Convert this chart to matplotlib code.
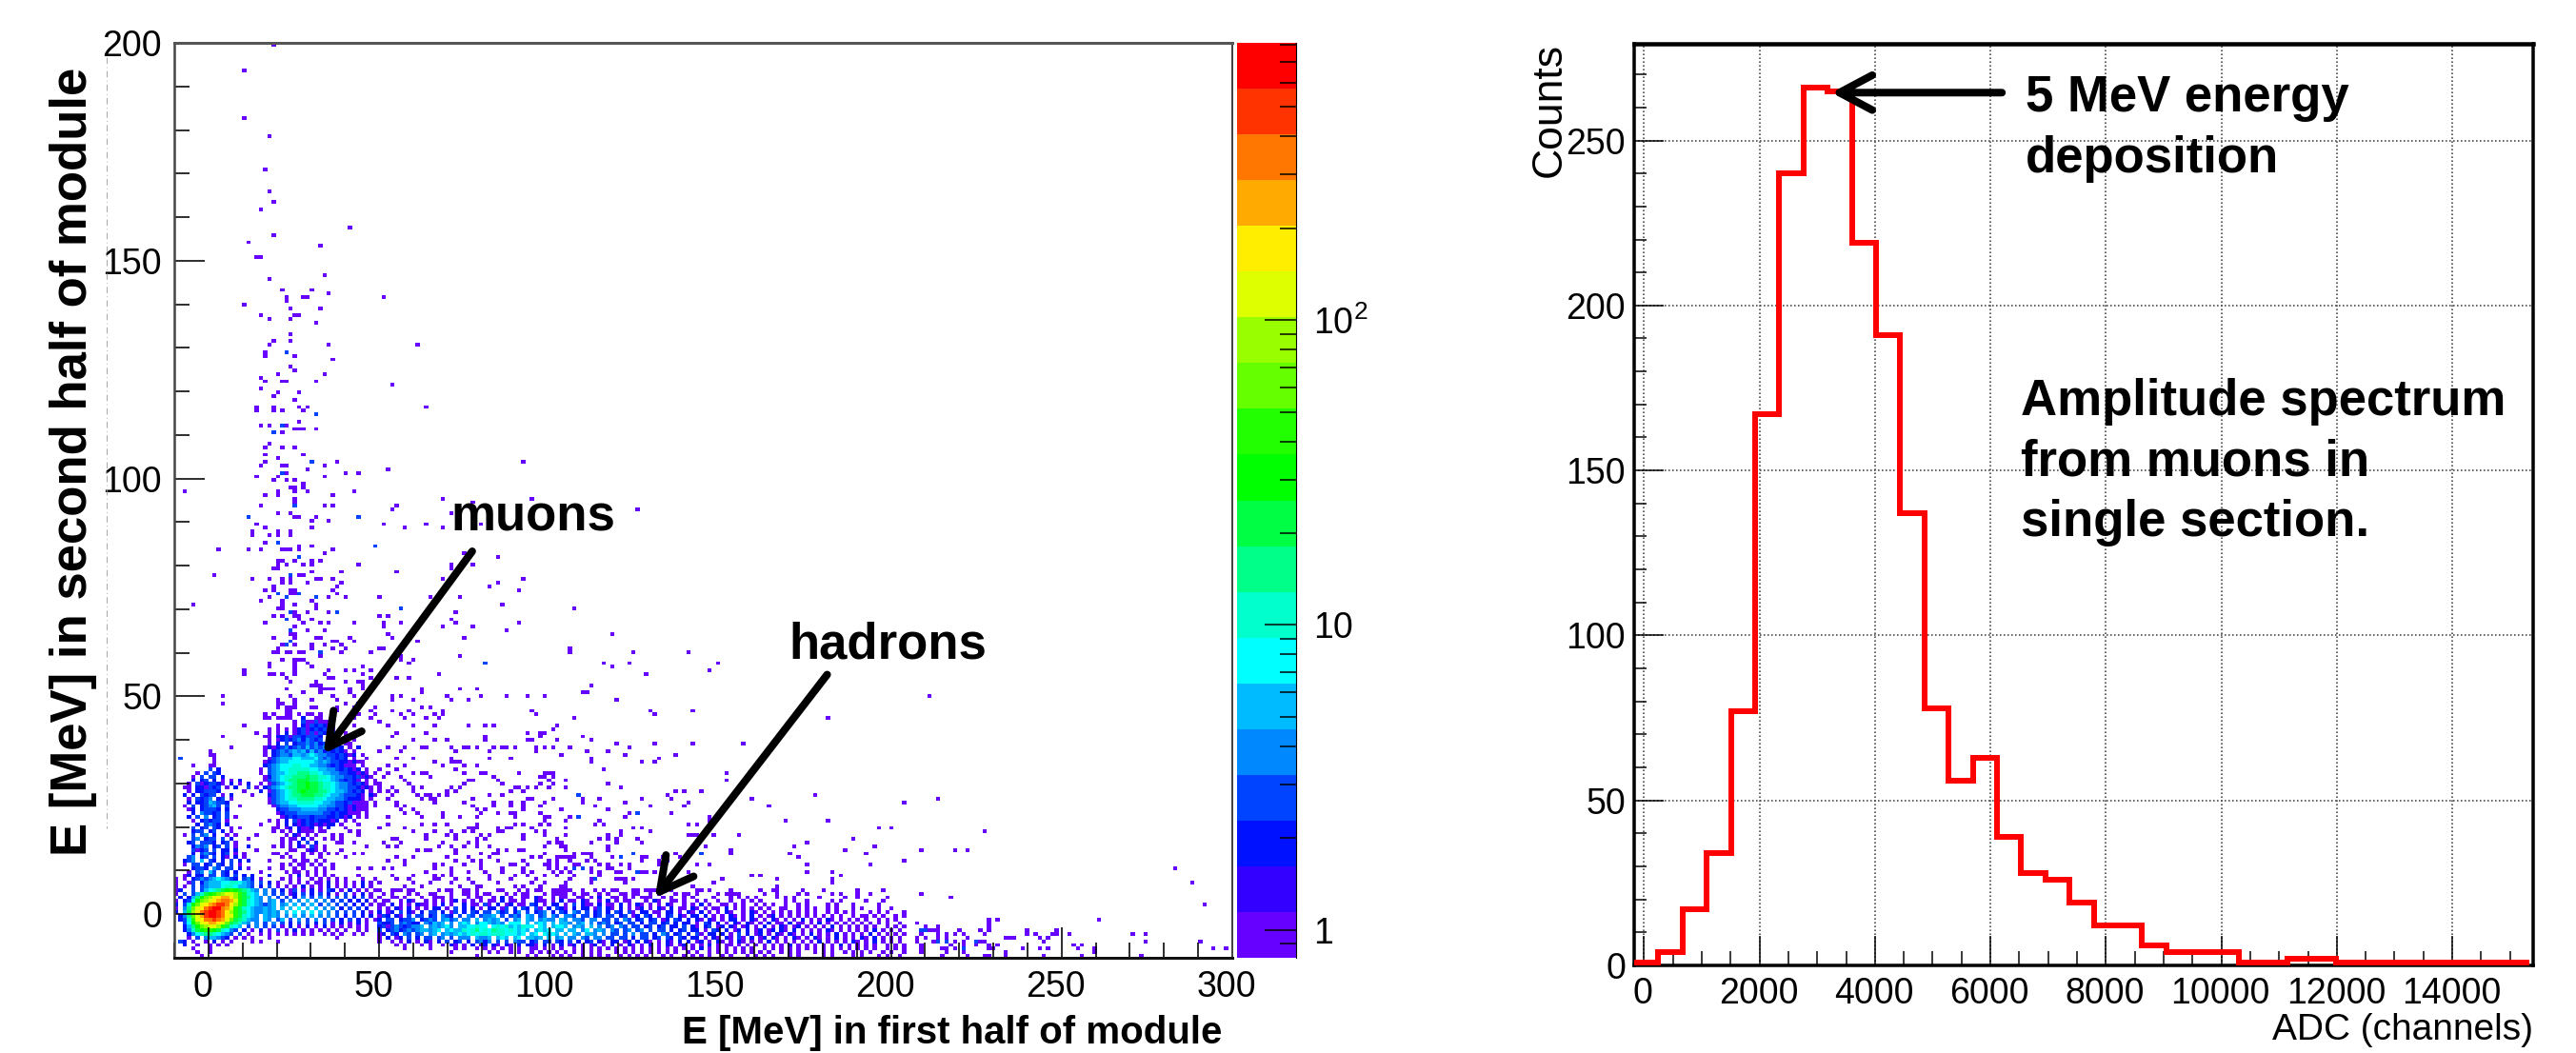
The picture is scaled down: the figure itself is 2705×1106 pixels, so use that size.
import numpy as np
import matplotlib
matplotlib.use("Agg")
import matplotlib.pyplot as plt
from matplotlib.colors import ListedColormap, LogNorm
from matplotlib.ticker import FixedLocator, MultipleLocator, NullFormatter
from matplotlib.transforms import ScaledTranslation

plt.rcParams['font.family'] = ['Liberation Sans', 'DejaVu Sans']
plt.rcParams['mathtext.default'] = 'regular'

W, H = 2705, 1106

# ---- right panel: amplitude spectrum
bin_start = -170
bin_width = 419
counts = [1, 4, 17, 34, 77, 167, 240, 266, 265, 219, 191, 137, 78, 56, 63, 39, 28, 26, 19, 12, 12, 6, 4, 4, 4,
          1, 1, 2, 2, 1, 1, 1, 1, 1, 1, 1, 1]

# ---- left panel: 2D histogram, bins of 1.24 x 0.84 MeV
nbins = 250
e1_lo, e1_hi = -10, 300
e2_lo, e2_hi = -10, 200
palette = ['#6600ff', '#3300ff', '#0011ff', '#0044ff', '#0088ff', '#00bbff', '#00ffff', '#00ffcc', '#00ff88',
           '#00ff44', '#00ff00', '#22ff00', '#66ff00', '#99ff00', '#ddff00', '#ffee00', '#ffaa00', '#ff7700',
           '#ff3300', '#ff0000']
level_chars = '.123456789abcdefghij'
level_counts = [0, 1, 2, 3, 4, 6, 8, 11, 16, 22, 32, 45, 63, 89, 126, 178, 251, 354, 500, 700]

# cells read row by row, top row is bin 79, first column is bin 0
core_rows = [
    "......................1.....1...1...........1...",
    "................1...........1.......1...1.1...1.",
    "......................11.1..1......1........1...",
    "..........................1.........11........1.",
    "...........................1.....1......1..11...",
    "................................111.........1...",
    "..........................1.......1111...1..1...",
    "..............................1...1......1......",
    "...........................1.........1....1..1..",
    "........................1...1...1.....1.........",
    "...........1............11..1...........1..1....",
    "........................1.111...11....1...1....1",
    "..........................11..........1...1...1.",
    ".....................1.1..11.1.11.1........1...1",
    ".....................11.1111..2..11..1....1...1.",
    "............................1.3113111...........1",
    "................1.......1...1.21323211....1......",
    "......................1.1.1.1231232311.1........",
    "...................1..1.1.2.12313132132.1.......",
    "...........1.........11.22313323332.1.1.1.......",
    "......................1.12323424323.12..1.1.....",
    "......................1.2.3.23343423232.11......",
    ".....................1212342343534343232.1.2....",
    "........1............1.234345453534232321.1......",
    "........11...........1.23443554565443323212.1....",
    ".........1............1345556655564343232.1..1...",
    ".........1...........123455666666545433221211....",
    "....1...11...........2345666776655443232111.1....",
    "........3.2.........1.3456677777665544323212.1...",
    ".....1.3.32.........1.345567788877655443322121.1.",
    "....1.3.33.2.........12456778889887765443323121..",
    "....2.23.2.1.1.2.....13456788999887665432321.1.1.",
    "...1.3123321.2.1.2..1.134567899a99877654432321.11",
    "..11.221323.1.2..3.1.2345678899a998776544332121..",
    "...1.223332.....1...2.13456789a99988765543232.1.1",
    "..2.2.3233.1.2....1...23456788999887655433321.21.",
    "...1.3234.23.1........13456778888776554432221.1..",
    "...2.22354332.........134556677776655433231111.1.",
    "..1.3.23453.3..1.......13445566666554433212111.1.",
    "...12.23332.2...........2334445555443323212111...",
    "....2.43323.3...........12333444444332322111.1...",
    "...2.3.4.23.3.1..........12323332333223212.1.1...",
    "....1.23233.1.........1.1.2.31232322212.1.1......",
    ".....2.3432.2.......1...1.2.2123212122.1...1.....",
    "....3.23.32..1.1.......11.12.2112.1.2...1........",
    "....233.23.2.1.........1.1.1.2111.11.....1.1.....",
    "..1.3.34.2..1.1....1......1.21.1.1...1.1...1.....",
    "....34.233.3.2...1.......1.11.2.1..1.1.1.........",
    "...23.3332.23.1..........1.1.2.3.2....11..1......",
    "....2434.23.3.1..2.....1.1.1.21.31.1.........1...",
    "....3123.3.22.2....1.......11..121.1...1.........",
    "....2.3432.23.1.1......11.1...1.1.1.1.1...1.1....",
    "...34.23.3.21.2.1........1.1..1...1.....1........",
    "..234.5.32.2.3.2.2....1.....1.11.1.1.............",
    "..1.33.23.32.3.1.........1.1.11.1.1..1...........",
    "....2332.43.33.2.1....1..1..1.1..1.1.1.....1..1..",
    "...1.34.53.32.2.....1.....1.11.1.1.1.............",
    "..12.22.33.32.3.2.2...2....1.2.1.1.1.1.....1.....",
    "1.1.23434565432.342.1....1.1.1..1.1.1.1.1...1..1.",
    "1..13.2455566776543.3.2.1..1.1.1.11.2.1.1.1.2.1..",
    "1.1.3.3455567765543.2.3.1.1.1.2.1.1.2.1.1.1.2.1.",
    "12..3.356789aba98754.4.3.2.13.1.2.1.32.1.2.1.1.1",
    "1.3.3579abcdeedb9765.4.3.3.12.3.2.3.2.1.3.1.2.1.",
    ".2.258acdefggfdb98654.4.3.3.2.4.3.4.3.3.3.2.3.1.",
    "1.236acdefghhgeb97654.45.3.4.4.5.4.4.3.3.2.2.2.1",
    "2.37acefghiihfdb97654345.45.5.4.5.3.4.3.3.2.2.1.",
    "1.48cefhijjhgeb976544545.5.5.6.5.5.4.4.2.3.3.2.",
    "2.59dfhijjihfdb9865445454.5.6.5.6.5.4.3.3.3.2.1",
    ".248cegijjihfeb97654.5454.4.5.4.5.4.4.3.2.3.2.2.",
    ".237befhhihgec987544.54.35.3.4.3.4.3.3.2.3.2.1.1",
    "..36acefggfec98754.4.3.4.3.2.3.3.2.3.1.2.1.2.1..",
    "..258acdeedb9765.3.4.3.3.1.2.1.2.1.2.1.1.1.1.1..",
    "..2479abba97643.2.1.2.1.3.1.2.1.1.1.1.1.1..1.1..",
    "...24678876543.3.1..1.1.1.1.1.1.1..1.1.1..1.1...",
    "...1.3.455432.1.1.1...1...............1..........",
    ".32.1..1.2.1.1....1.1...1........................",
    "..2..1..1.1.1...................................",
    "....1...1.......................................",
    ".....1..1.......................................",
    "......1.........................................",
]

# same idea for the hadron band, top row is bin 18, first column is bin 48
band_rows = [
    "1...11..1.....1.11...1.1....11...1.1..1..1.111..1....1.11...1..1.1...1.....11.1....1......1...1.....1....1.......1.....1....",
    ".1.1...1.1..11...1..11.1.11...1.1.11...1..1.1.1.11..1.1..11.11..1.1...1.1..1....1.1..1.....1..1......1.....1.1......1......",
    "1..11.1...1..111.1...1.11..1.2.1..11.21..1.11..11.1.2..11.1.1.111..1.1..1.1....1...1.1.1.1....1.1.1.....1.....1..1......1...",
    ".11..1.21..1.1.1.12.1.1.1.11.2.11.1..211.1.2.11.21..1.2.1.11...1.21..11.1..1.1..1..1..1.1.1.....1.1..1.....1.1.....1...1....",
    "11.2.1.1.211.1.2.1..2.11.31.2.12.11.32.1.22.1.3.211.2.11.2.1.21.1.1.21..1.1.2.1..11.1.1..1.1.1..1..1.1....1.1...1.....1.....",
    "1.1.21.2.1.1.22.1.3.2.2.1.22.13.2.32.31.2.321.2.22.13.21.2.1.12.1.21.2.11.21.1.11.2.1.1.1.1.1..11..1.1.1..1.1...1.1...1..1..",
    "2.12.3.21.2.33.2.13.2.32.33.423.24.3.234.2.32.43.3.23.2.32.31.22.11.22.1.21.2.1.1.21..1.21.1.1.1.1.1.1.1..1.1.1.1...1.1.1...1",
    "132.21.3.33.23.432.3.43.3445.3.343.54.34.43.443.33.23.33.23.12.32.1.23.21.22.2.1.1.21.1.2.1.12.1.1.1.1.1.1.1.1..1.11.1.1..1.1",
    "2.33.2334.2343.4534.44.5.4545.3.45.54.4544.54.443.44.33.3.43.23.23.12.32.2.21.21.1.22.1.21.1.21.1.1.2.1.1.21.1.1.1.1..1.1.1..",
    "3223.34322.43545.4.565.4665454.666.5.565.5.554.45.4.343.23.33.2.33.23.2.22.1.32.2.1.21.21.1.2.11.2.11.1.2.1.1.1.1.1.1.1.1..1",
    "23134323445.454564.5566766.6767565766.65.5665.454.5.4.34.43.33.23.23.22.3.21.23.12.21.12.1.2.1.21.12.1.1.1.2.1.1.1.1.1..1.1.1",
    "3.2342343455456.56557678676877676565.5656.55.55.46.454.43.34.34.3.33.2.23.22.1.32.2.12.2.12.12.21.2.1.1.1.21.1.1.1.1.2.1.1.1.",
    "12.32.43.34.45.45456567677677766656.56.6565.5.54.554.4.33.3.4.33.2.43.23.2.31.22.2.1.3.2.12.1.21.21.1.2.1.1.2.1.1.1.2.1.1.1.1",
    "1.2.12.3.2.33.34.3.444.5445.565.56.5545.5.45.44.43.44.33.33.2.33.23.32.32.22.1.21.21.31.2.12.21.1.21.1.21.1.2.1.1.21.2.1.1.1.",
    "1..1.1.2.1.21.2.3.23.2.3424.3.3.433.23.33.32.3.2.23.21.22.12.2.21.1.21.2.2.12.1.21.1.21.1.1.2.1.1.1.1.1.2.1.1.1.21.1.2.1.1.1.",
    "....1.1...1.1..1.21.1.2.12.21.21.2.221.2.1.2.12.1.12.1.2.1.21.1.2.1.21.12.1.1.2.1.11.1.1.1.1.1.1.2.1.1.1.1.1.2.1.1.1.1..1.1.1",
    "......1.....1.....1.1..1.1.1.1.1.1..11.1.1.1..1.1.1.1.1.1.1.1.1.1.1.1.1.1.1.2.1.1.1.1.1.1..1.1.1.1.1.1.1.1.1.1.1.1.1.1..1.1.1.",
    ".................1........1.1..1.1..1.1.1.1.1.1.1.1.1...1.1.1.1.1.1.1.1..1.1..1.1.1.1.1.1.1.1..1.1.1...1.1.1..1.1.1.1..1.1..1.",
    ".......................1...........1.1...1.1.1..1.1.1.1..1.1.1.1...1.1..1.1.1.1..1.1...1.1.1.1...1.1.....1.1....1.1...1.1..1.",
]

# single hits above the band, (E2, [E1, ...])
sparse_rows = [
    (199.6, [19.3]), (193.7, [10.5]), (182.7, [10.5]), (178.5, [17.9]), (171, [16.6]), (166, [17.9]),
    (163.4, [19.3]), (161.8, [15.5]), (157.5, [41.6]), (155.9, [19.3]), (154.2, [11.8]), (153.4, [32.7]),
    (150.9, [14.3, 15.5]), (146.6, [34.1]), (145.8, [17.9]), (143.3, [21.6, 30.4]), (142.4, [35.3]),
    (141.6, [51.3, 22.9, 27.9, 29.1]), (140.8, [22.9]), (139.9, [10.5]), (139, [24.1, 32.7]),
    (137.4, [15.5, 25.4, 26.6]), (136.6, [17.9, 24.1]), (135.7, [31.6]), (133.2, [24.1]), (131.5, [19.3, 24.1]),
    (130.6, [17.9, 35.3, 61.4]), (129, [16.6]), (128.2, [16.6, 25.4]), (127.3, [36.5]), (125.6, [24.1]),
    (124.8, [25.4]), (123.9, [20.4, 34.1]), (123.1, [15.5]), (122.3, [16.6, 21.6, 22.9, 31.6]), (121.4, [53.9]),
    (120.6, [15.5]), (119.8, [20.4, 26.6]), (118.9, [19.3]), (118, [25.4]), (116.4, [14.3, 19.3, 26.6, 29.1, 63.7]),
    (115.6, [14.3, 19.3, 27.9, 21.6]), (113, [26.6]), (112.2, [15.5, 17.9, 22.9]), (111.4, [25.4, 26.6, 27.9, 31.6]),
    (110.5, [21.6]), (108, [17.9]), (107.2, [16.6, 21.6, 25.4]), (105.5, [16.6, 27.9]), (104.7, [20.4]),
    (103.8, [16.6, 37.8, 92.1]), (103, [15.5, 34.1, 21.6, 22.9]), (102.1, [29.1, 52.6]), (101.3, [22.9, 40.3, 44.1]),
    (100.4, [14.3, 20.4, 34.1]), (99.5, [19.3, 22.9, 25.4]), (98.8, [27.9]), (97.9, [24.1, 25.4, 27.9]),
    (97.1, [29.1, 25.4, -6.9, 42.8, 20.4]), (96.3, [20.4, 16.6, 36.5]), (95.5, [25.4, 68.7, 94.7]),
    (94.6, [25.4, 77.4]), (93.7, [15.5, 34.1, 36.5, 55]), (92.9, [53.9, 125.6]), (92, [20.4, 24.1, 71.2]),
    (91.2, [25.4, 26.6, 31.6]), (90.4, [30.4, 35.3]), (89.5, [14.3, 51.3, 63.7, 79.9]), (88.7, [16.6, 30.4, 57.6, 68.7]),
    (87.8, [13, 20.4, 24.1]), (87, [18, 20.4, 24.2, 13]), (85.3, [16.6]), (84.4, [26.6, 30.3]),
    (83.5, [3.2, 11.7, 15.4, 21.6, 22.9, 24.2, 26.6, 36.5]), (83, [34, 74.9]), (81.8, [84.8]),
    (81, [20.4, 21.6, 25.4, 30.3, 32.8]), (80, [20.4, 22.9, 27.9, 30.3, 44, 71.2, 77.4]), (79.3, [19.1, 20.4, 71.2]),
    (78.5, [30.3, 39, 55.1]), (77.6, [1.9, 26.6, 27.9]), (76.7, [13, 18, 21.6, 24.2, 31.6, 32.8, 36.5, 68.7, 92.2]),
    (76, [21.6, 24.2, 29.1, 39, 84.8]), (75, [19.1, 37.7, 82.3]), (74.2, [16.6, 19.1, 24.2, 25.4, 36.5, 91.1]),
    (73.3, [24.2, 25.4, 37.7]), (72.5, [18, 35.3, 40.2, 50.1, 65, 73.7]), (71.7, [15.4, 21.6, 30.3]),
    (71, [-4.3, 21.6, 25.4, 31.6, 86]), (70, [20.4, 21.6, 31.6]), (69, [25.4, 29.1, 35.3, 72.4]),
    (68.3, [19.1, 21.6, 25.4, 26.6, 50.1, 52.6]), (67.5, [26.6, 30.3, 71.2]),
    (66.6, [16.6, 27.9, 32.8, 35.3, 42.7, 51.4, 56.3, 72.4, 91.1]), (65.8, [25.4, 51.4, 68.7, 77.4]),
    (65, [29.1, 34, 87.3]), (64, [24.2, 25.4, 52.6]), (63.3, [19.1, 25.4, 31.6, 32.8, 41.4, 53.9, 74.9]),
    (62.4, [36.5, 37.7, 42.7, 61.2]), (61.5, [21.6, 25.4, 30.3, 34, 39]), (60.6, [20.4, 30.3, 36.5, 40.2, 50.1, 51.4]),
    (60, [19.1, 20.4, 22.9, 24.2, 26.6, 27.9, 39, 47.7]), (59, [32.8, 73.7, 56.3]),
    (58.2, [21.6, 25.4, 26.6, 27.9, 56.3, 60]), (57.3, [29.1, 58.8, 18, 25.4]),
    (55.4, [67.5, 10.6]), (54.4, [55.1, 58.6]), (51.9, [62.5, 73.7, 78.6]), (51, [62.5]),
    (50.3, [4.3, 53.9, 56.3, 70, 79.8, 87.3, 93.5, 98.4, 98.4]), (49.3, [53.9, 60, 71.2, 76.1]), (47.6, [62.5, 65]),
    (46.8, [53.9, 58.8, 68.7, 95]), (45.9, [56.3, 60, 66.3, 68.7, 96]), (44.8, [57.5, 64, 67.5]),
    (43.4, [52.6, 60, 66.3, 76.1, 81.1, 83.5]), (41.6, [55.1, 63.7, 93.5, 97]), (40.8, [54, 81.1, 97.2]),
    (40, [60, 66.3, 70, 81.1, 93.5, 95]), (38.4, [6.8, 52.6, 57.5, 62.5, 63.7, 71.2, 74.9, 76.1, 78.6, 83.5, 86, 87.3, 89.8, 96]),
    (37.6, [50, 56.3, 72, 82, 95.5]), (35.8, [55.1, 60, 71.2, 82.3, 88.6]), (35, [66.3, 71.2, 72.4, 73.7]),
    (34.2, [52.6, 57.5, 68.7, 78.6, 74.9]), (33.4, [50, 55.1, 72.4]), (32.5, [52.6, 60, 62.5, 63.7, 74.9, 80, 81.1, 91, 99.7]),
    (31.6, [51.4, 56.3, 65, 84, 97, 98.4]), (30.8, [57.5, 76, 77.4, 84.8, 99.7]), (30, [58.8, 75, 86, 97.2]),
    (29, [50, 54, 60, 62, 71.2, 73.7, 90, 91, 93.5, 96]), (28.3, [52.6, 55, 60, 70, 72.4, 88.6, 92]),
    (27.4, [54, 61.2, 63.7, 65, 67.5, 70, 82.3, 86]), (26.5, [52.6, 62.5, 65, 66.3, 77.4, 93, 94.7]),
    (25.7, [55.1, 66, 75, 84, 88, 92.3]), (24.8, [55, 57.5, 78, 83.5, 88.6, 92.3, 97.2]), (24, [56.3, 60, 78.6, 81.1, 92.3]),
    (23.2, [57.5, 61, 68.7, 79.8, 84.8, 88.6, 90, 97]), (22, [52.6, 62.5, 69, 73.7, 78.6, 90, 98.4, 99.7]),
    (20.7, [53, 62.5, 66, 70, 78.6, 90, 92.3, 97]), (20, [50, 58, 76, 77.4, 78.6, 84.8, 87.3, 89, 94.7]),
    (19, [60, 66.3, 71.2, 74.9, 77.4, 84.8, 86, 96, 98.4]), (18.2, [63.7, 70, 72.4, 80, 82.3, 92]),
    (17.3, [53.9, 55.1, 63.7, 72.4, 78.6, 81.1, 92.3]), (16.4, [51.4, 56.3, 68.7, 76.1, 78.6]),
    (15.6, [52.6, 55, 67, 71.2, 74.9, 78.6, 82]), (14.7, [61.2, 63.7, 65, 72.4, 85, 87, 91, 92.3]),
    (13.9, [72.4, 80, 83, 85, 98.4]), (13, [55, 60, 70, 76, 82.3, 95, 97]), (12.3, [52, 57, 72.4, 77.4, 80, 84.8, 92.3, 99.7]),
    (11.4, [58, 66.3, 68.7, 74.9, 80, 88, 90, 93.5, 98]), (10.5, [51.4, 54, 66.3, 71.2, 80, 86, 92.3, 99.6]),
    (9.6, [63.7, 71, 76, 81.1, 86, 92, 95]), (8.8, [54, 60, 66, 68.7, 71.2, 82.3, 90, 93.5]),
    (8, [55.1, 58.8, 66, 67.5, 72.4, 76.1, 82, 88.6, 96]), (7, [50, 60, 65, 71.2, 77.4, 85, 94.7]),
    (6.3, [57.5, 62.5, 73.7, 78.6, 80, 90, 92, 97.2]), (5.4, [54, 59, 70, 75, 78.6, 91, 96]),
    # right of x = 98
    (70.5, [107.1]), (64.6, [118.2]), (61.2, [105.9]), (60.3, [105.9, 124.4, 140.6]), (57.9, [115.8, 123.1, 149.1]),
    (57, [118.2]), (56.2, [146.7]), (55.4, [128.1]), (52.9, [112]), (51.1, [109.5, 110.7]), (50.3, [210.9]),
    (49.4, [119.4]), (46.9, [129.3, 141.6]), (46.1, [130.5]), (45.2, [107.1, 181.4]), (43.5, [102.2]), (42.7, [101]),
    (41.9, [98.4]), (41, [109.5]), (40.2, [102.1, 112]), (39.3, [119.4, 130.5, 141.6, 156.6]),
    (38.5, [98.4, 101, 105.9, 123.1]), (37.7, [110.7, 117.1]), (36.8, [103.4, 121.9, 136.8]), (35.9, [112, 131.7]),
    (35.1, [112, 130.5, 126.8]), (33.4, [115.8]), (32.6, [98.4, 99.6, 100.8, 151.6]), (31.8, [101]), (31, [104.7, 151.6]),
    (30.1, [117.1, 101]), (29.3, [99.6, 104.7, 120.8]), (28.4, [136.8, 139.3, 144.2]), (27.6, [134.4, 177.7]),
    (26.7, [109.5, 101, 114.5, 126.8, 135.6, 159.1, 213.4]), (25.8, [98.4, 109.5, 121.9, 140.6, 203.6]),
    (25, [113.3, 129.3, 139.3, 164]), (24.2, [103.4, 117.1]), (23.3, [135.6, 123.1]), (22.5, [105.8, 121.9, 146.7]),
    (21.6, [98.4, 104.5, 114.5, 146.7, 169, 181.4]), (20.8, [99.6, 113.3, 115.8, 140.6, 143]),
    (19.9, [104.5, 124.4, 126.8, 196.2, 199.9]), (19, [120.8, 129.3, 227.2]),
    (18.2, [98.4, 104.5, 117.1, 120.8, 140.6, 141.8, 143, 147.9, 155.4]), (17.3, [102.1, 114.5, 117.1, 119.5, 125.6, 188.8]),
    (16.4, [99.6, 102.1, 103.3, 112, 119.5, 126.8, 175.2]), (15.5, [98.4, 103.3, 104.6, 117.1, 145.4, 171.4, 194.9]),
    (14.6, [104.6, 117.1, 152.8, 186.3, 208.5, 218.3, 222.1]),
    (13.9, [98.4, 107.1, 109.5, 110.7, 112, 136.8, 152.8, 170.2, 192.4]),
    (13, [102.1, 103.4, 104.6, 105.9, 107.1, 112, 118.2, 126.8, 128.1, 133, 138.1, 172.7]),
    (12.1, [102.1, 105.8, 110.7, 113.3, 126.8, 131.8, 134.3, 203.6]),
    (11.4, [99.6, 102.1, 107.1, 108.2, 114.5, 117.1, 120.8, 123.1, 131.8, 143, 146.7, 175.2, 193.7]),
    (10.6, [99.6, 102.1, 104.6, 112, 117.1, 118.2, 123.1, 282.8]),
    (9.8, [101, 103.4, 105.8, 112, 114.5, 119.5, 120.8, 126.8, 128.1, 130.5, 140.6, 175.2, 182.6]),
    (9, [98.4, 102.1, 107.1, 114.5, 159.1, 161.5, 185.1]), (8.1, [105.8, 112, 119.5, 120.8, 121.9, 124.4, 150.5, 166.5, 182.6]),
    (7.3, [98.4, 104.6, 121.9, 112, 147.9, 182.6, 287.8]), (6.4, [104.6, 103.4, 141.6, 166.5]),
    (5.6, [102.1, 105.8, 113.3, 115.8, 124.4, 125.6, 128.1, 129.3, 165.3]),
    (4.8, [101, 103.4, 109.5, 136.8, 140.6, 152.8, 154.1, 172.7, 175.2, 190, 208.5]), (4, [217.1]), (2.2, [291.5]),
    (-1.2, [228.3, 230.9, 260.5]), (-2, [207.4, 228.3]), (-2.9, [209.7, 213.4, 228.3]),
    (-3.8, [210.9, 212.1, 213.4, 219.7, 226, 228.3, 239.4, 248.1]),
    (-4.5, [208.5, 213.4, 215.8, 218.2, 220.8, 227.2, 239.4, 242, 246.9, 248.1, 251.8, 270.4, 274.1]),
    (-5.4, [207.4, 209.7, 213.4, 215.8, 222.2, 233.2, 234.4, 235.7, 243.1, 245.5]),
    (-6.2, [207.4, 212.1, 218.2, 220.8, 224.6, 226, 227.2, 244.4, 274.1, 290.2]),
    (-7, [208.5, 217.1, 220.8, 224.6, 228.3, 230.9, 253.1, 255.5]),
    (-7.9, [208.5, 214.6, 215.8, 218.2, 228.3, 229.5, 238.2, 243.1, 245.7, 254.3, 259.2, 293.9, 297.6]),
    (-8.7, [208.5, 215.8, 220.8, 233.2, 259.2]), (-9.6, [214.6, 222.2, 227.2, 228.3, 233.2, 244.4, 255.5, 272.9]),
]

# cells with a few hits (blue ones), E1 and E2
blue_e1 = [22.9, 31.6, 21.6, 19.3, 30.4, 21.6, 25.4, 11.8, 44.1, 48.9, 26.6, 20.4, 24.2, 20.4, 26.6, 22.9, 31.6, 24.2,
           37.7, 56.3, 22.9, 24.2, 24.2, 22.9, 32.8, 81.1, 108.2, 125.6, 108.2, 124.4, 144.2, 120.8, 113.3, 125.6,
           107.1, 109.5, -8, 208.5, 209.7, 213.4, 215.8, 220.8, 224.6]
blue_e2 = [129, 114.7, 112.2, 110.5, 103.8, 101.3, 93.8, 91.2, 91.2, 84.4, 81.8, 85.3, 77.6, 73.3, 73.3, 72.5, 72.5, 69,
           69, 70, 67.5, 65, 62.4, 61.5, 60, 57.3, 27.6, 23.3, 22.5, 13.9, 13.9, 13, 8.1, 9.8, 10.6, 10.6, 35.8, -3.8,
           -3.8, -6.2, -6.2, -7.9, -6.2]

x_major = [0, 50, 100, 150, 200, 250, 300]
y_major = [0, 50, 100, 150, 200]
cbar_ticks = [1, 10, 100]
cbar_labels = ['1', '10', '$10^{2}$']
adc_major = [0, 2000, 4000, 6000, 8000, 10000, 12000, 14000]
cnt_major = [0, 50, 100, 150, 200, 250]


def px_axes(l, t, r, b):
    return fig.add_axes([l / W, 1 - b / H, (r - l) / W, (b - t) / H])


def label(x, y, s, **kw):
    fig.text(x / W, 1 - y / H, s, **kw)


def px(p):
    return p * 72 / 100


grid = np.zeros((nbins, nbins))
for k, row in enumerate(core_rows):
    for i, ch in enumerate(row):
        grid[79 - k, i] = level_counts[level_chars.index(ch)]
for k, row in enumerate(band_rows):
    for i, ch in enumerate(row):
        grid[18 - k, 48 + i] = level_counts[level_chars.index(ch)]

dx = (e1_hi - e1_lo) / nbins
dy = (e2_hi - e2_lo) / nbins
for e2, e1s in sparse_rows:
    for e1 in e1s:
        i, j = int((e1 - e1_lo) / dx), int((e2 - e2_lo) / dy)
        grid[j, i] = max(grid[j, i], 1)
for e1, e2 in zip(blue_e1, blue_e2):
    grid[int((e2 - e2_lo) / dy), int((e1 - e1_lo) / dx)] = 3

fig = plt.figure(figsize=(W / 100, H / 100), dpi=100)

# left panel
ax = px_axes(183, 45, 1294, 1006)
xe = np.linspace(e1_lo, e1_hi, nbins + 1)
ye = np.linspace(e2_lo, e2_hi, nbins + 1)
cmap = ListedColormap(palette)
cmap.set_bad('white')
norm = LogNorm(0.81, 811)
mesh = ax.pcolormesh(xe, ye, np.ma.masked_equal(grid, 0), cmap=cmap, norm=norm, antialiased=False, rasterized=True)
ax.set_xlim(e1_lo, e1_hi)
ax.set_ylim(e2_lo, e2_hi)
ax.xaxis.set_major_locator(FixedLocator(x_major))
ax.yaxis.set_major_locator(FixedLocator(y_major))
ax.xaxis.set_minor_locator(MultipleLocator(10))
ax.yaxis.set_minor_locator(MultipleLocator(10))
ax.tick_params(which='major', direction='in', length=px(32), width=px(1.6), labelsize=27, pad=px(13))
ax.tick_params(which='minor', direction='in', length=px(16), width=px(1.6))
for lb in ax.get_xticklabels():
    lb.set_transform(lb.get_transform() + ScaledTranslation(-0.06, 0, fig.dpi_scale_trans))
for side, c, w in [('top', '#555555', 3), ('left', '#444444', 2.5), ('right', '#444444', 2), ('bottom', '#111111', 3)]:
    ax.spines[side].set_color(c)
    ax.spines[side].set_linewidth(px(w))

# colour bar
cax = px_axes(1299, 45, 1361, 1006)
cb = fig.colorbar(mesh, cax=cax)
cb.outline.set_visible(False)
cax.spines['right'].set_visible(True)
cax.yaxis.set_major_locator(FixedLocator(cbar_ticks))
cax.yaxis.set_major_formatter(plt.FixedFormatter(cbar_labels))
cax.yaxis.set_minor_locator(FixedLocator([0.9, 2, 3, 4, 5, 6, 7, 8, 9, 20, 30, 40, 50, 60, 70, 80, 90, 200, 300, 400, 500, 600, 700, 800]))
cax.yaxis.set_minor_formatter(NullFormatter())
cax.tick_params(which='major', direction='in', length=px(33), width=px(1.5), labelsize=27, pad=px(18))
cax.tick_params(which='minor', direction='in', length=px(17), width=px(1.5))

# right panel
ax2 = px_axes(1716, 46, 2660, 1014)
edges = bin_start + bin_width * np.arange(len(counts) + 1)
ax2.stairs(counts, edges, color='#ff0000', lw=px(6), baseline=None, zorder=3)
ax2.set_xlim(-170, 15400)
ax2.set_ylim(0, 279.3)
ax2.xaxis.set_major_locator(FixedLocator(adc_major))
ax2.yaxis.set_major_locator(FixedLocator(cnt_major))
ax2.xaxis.set_minor_locator(MultipleLocator(500))
ax2.yaxis.set_minor_locator(MultipleLocator(10))
ax2.grid(True, which='major', color='#444444', ls=(0, (1, 1.5)), lw=px(1.6))
ax2.set_axisbelow(True)
ax2.tick_params(which='major', direction='in', length=px(31), width=px(1.5), labelsize=27, pad=px(12))
ax2.tick_params(which='minor', direction='in', length=px(15), width=px(1.5))
ax2.tick_params(axis='y', which='minor', length=px(13))
ax2.tick_params(axis='y', pad=px(9))
for lb in ax2.get_xticklabels():
    lb.set_transform(lb.get_transform() + ScaledTranslation(-0.01, 0, fig.dpi_scale_trans))
for side in ax2.spines:
    ax2.spines[side].set_color('black')
    ax2.spines[side].set_linewidth(px(3.5))
ax2.spines['top'].set_linewidth(px(4.5))

# arrows
arrow = dict(arrowstyle='->,head_length=0.62,head_width=0.33', mutation_scale=40, lw=px(8), color='black',
             shrinkA=0, shrinkB=0)
ax.annotate('', xy=(33.7, 36.8), xytext=(77.3, 83.3), arrowprops=arrow, zorder=5)
ax.annotate('', xy=(130.8, 3.7), xytext=(181.3, 55), arrowprops=arrow, zorder=5)
ax2.annotate('', xy=(3246, 264.5), xytext=(6200, 264.5), arrowprops=arrow, zorder=5)

# texts
bold = dict(fontweight='bold', fontsize=38, color='black', va='baseline')
label(473, 557, 'muons', **bold)
label(828, 692, 'hadrons', **bold)
label(2127, 117, '5 MeV energy', **bold)
label(2127, 181, 'deposition', **bold)
label(2122, 436, 'Amplitude spectrum', **bold)
label(2122, 500, 'from muons in', **bold)
label(2122, 563, 'single section.', **bold)
label(91, 899, 'E [MeV] in second half of module', fontweight='bold', fontsize=38, rotation=90,
      ha='left', va='baseline', rotation_mode='anchor')
label(716, 1096, 'E [MeV] in first half of module', fontweight='bold', fontsize=29, va='baseline')
label(1639, 186, 'Counts', fontsize=32, rotation=90, ha='left', va='baseline', rotation_mode='anchor')
label(2660, 1092, 'ADC (channels)', fontsize=28, ha='right', va='baseline')

# faint dashed scan line left of the y labels
fig.add_artist(plt.Line2D([112 / W, 112 / W], [1 - 60 / H, 1 - 870 / H], color='#999999', lw=0.6, ls=(0, (8, 4, 1, 4))))

fig.savefig('out.png', dpi=100)
